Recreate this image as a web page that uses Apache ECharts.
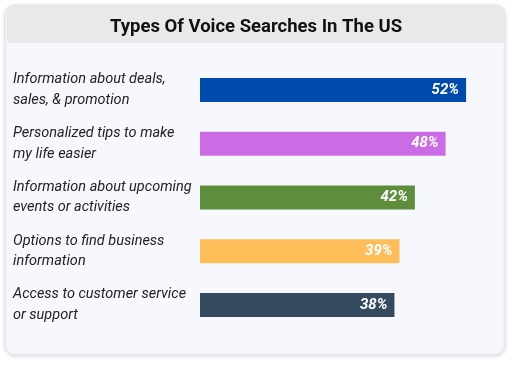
<!DOCTYPE html>
<html><head><meta charset="utf-8">
<script src="https://cdn.jsdelivr.net/npm/echarts@6/dist/echarts.min.js"></script>
<style>html,body{margin:0;padding:0;background:#fff}#c{width:512px;height:366px}</style>
</head><body><div id="c"></div>
<script>
const categories = [
  "Information about deals,\nsales, & promotion",
  "Personalized tips to make\nmy life easier",
  "Information about upcoming\nevents or activities",
  "Options to find business\ninformation",
  "Access to customer service\nor support"
];
const values = [52, 48, 42, 39, 38];
const colors = ["#004aad", "#cb6ce6", "#5e8d3c", "#ffbd59", "#344a5e"];
const titleText = "Types Of Voice Searches In The US";

const chart = echarts.init(document.getElementById('c'), null, {renderer: 'canvas'});
chart.setOption({
  animation: false,
  backgroundColor: '#ffffff',
  graphic: [
    {type: 'rect', z: -10, shape: {x: 5, y: 5, width: 500, height: 350, r: 10},
     style: {fill: '#f7f8fe', stroke: '#e2e2e6', lineWidth: 1, shadowBlur: 4, shadowColor: 'rgba(0,0,0,0.12)', shadowOffsetY: 1}},
    {type: 'rect', z: -9, shape: {x: 7, y: 5, width: 498, height: 38, r: [8, 8, 4, 4]},
     style: {fill: '#e9e9e9'}}
  ],
  title: {
    text: titleText, left: 'center', top: 13,
    textStyle: {fontFamily: 'Roboto', fontWeight: 'bold', fontSize: 18.5, color: '#111'}
  },
  grid: {left: 200, right: 5, top: 63, bottom: 34},
  xAxis: {type: 'value', min: 0, max: 60, show: false},
  yAxis: {
    type: 'category', data: categories, inverse: true,
    axisLine: {show: false}, axisTick: {show: false},
    axisLabel: {
      align: 'left', margin: 187, fontFamily: 'Roboto', fontStyle: 'italic',
      fontSize: 14.5, lineHeight: 20.5, color: '#222'
    }
  },
  series: [{
    type: 'bar', barWidth: 24,
    data: values.map((v, i) => ({value: v, itemStyle: {color: colors[i]}})),
    label: {
      show: true, position: 'insideRight', offset: [-2, 0],
      formatter: p => p.value + '%',
      color: '#fff', fontFamily: 'Roboto', fontStyle: 'italic', fontWeight: 'bold', fontSize: 15
    }
  }]
});
</script></body></html>
